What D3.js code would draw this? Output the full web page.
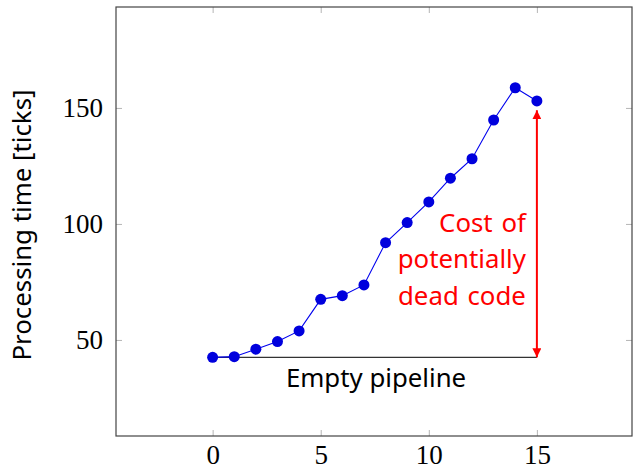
<!doctype html>
<html>
<head>
	<meta charset="UTF-8">
	<script src="https://d3js.org/d3.v7.min.js"></script>
	<style>
		body { margin: 0; background: #fff; }
		.tick line { stroke: #b5b5b5; }
		.tick text { font-family: "Liberation Serif", serif; font-size: 27px; fill: #000; }
	</style>
</head>
<body>
	<script>
		// data
		var runs = [0, 1, 2, 3, 4, 5, 6, 7, 8, 9, 10, 11, 12, 13, 14, 15];
		var ticksUsed = [42.5, 42.8, 46.0, 49.3, 53.9, 67.5, 69.1, 73.7, 91.9, 100.6, 109.5, 119.7, 128.1, 144.8, 158.7, 153.0];
		var xTicks = [0, 5, 10, 15];
		var yTicks = [50, 100, 150];
		var arrowTop = 149;

		var W = 633, H = 468;
		var plot = {left: 116, top: 7, right: 632, bottom: 436};
		var sans = "'Noto Sans', 'Open Sans', sans-serif";

		var x = d3.scaleLinear().domain([-4.47, 19.4]).range([plot.left, plot.right]);
		var y = d3.scaleLinear().domain([8.6, 193.5]).range([plot.bottom, plot.top]);

		var svg = d3.select("body").append("svg")
			.attr("width", W)
			.attr("height", H);

		// bottom axis (ticks point inward)
		var gx = svg.append("g")
			.attr("transform", "translate(0," + plot.bottom + ")")
			.call(d3.axisBottom(x).tickValues(xTicks).tickSizeInner(-6).tickSizeOuter(0).tickPadding(9));
		gx.select(".domain").remove();

		// top mirror ticks
		var gxt = svg.append("g")
			.attr("transform", "translate(0," + plot.top + ")")
			.call(d3.axisTop(x).tickValues(xTicks).tickSizeInner(-6).tickSizeOuter(0).tickFormat(""));
		gxt.select(".domain").remove();

		// left axis
		var gy = svg.append("g")
			.attr("transform", "translate(" + plot.left + ",0)")
			.call(d3.axisLeft(y).tickValues(yTicks).tickSizeInner(-6).tickSizeOuter(0).tickPadding(13));
		gy.select(".domain").remove();

		// right mirror ticks
		var gyr = svg.append("g")
			.attr("transform", "translate(" + plot.right + ",0)")
			.call(d3.axisRight(y).tickValues(yTicks).tickSizeInner(-6).tickSizeOuter(0).tickFormat(""));
		gyr.select(".domain").remove();

		// frame
		svg.append("rect")
			.attr("x", plot.left)
			.attr("y", plot.top)
			.attr("width", plot.right - plot.left)
			.attr("height", plot.bottom - plot.top)
			.attr("fill", "none")
			.attr("stroke", "#444")
			.attr("stroke-width", 1.2);

		// y axis label
		svg.append("text")
			.attr("transform", "translate(31,225) rotate(-90)")
			.attr("text-anchor", "middle")
			.style("font-family", sans)
			.style("font-size", "25.8px")
			.text("Processing time [ticks]");

		// empty pipeline baseline
		var last = runs.length - 1;
		svg.append("line")
			.attr("x1", x(runs[0]))
			.attr("x2", x(runs[last]))
			.attr("y1", y(ticksUsed[0]))
			.attr("y2", y(ticksUsed[0]))
			.attr("stroke", "#333")
			.attr("stroke-width", 1.1);

		svg.append("text")
			.attr("x", 376)
			.attr("y", 387)
			.attr("text-anchor", "middle")
			.style("font-family", sans)
			.style("font-size", "25.8px")
			.text("Empty pipeline");

		// red arrow markers
		var defs = svg.append("defs");
		defs.append("marker")
			.attr("id", "ah")
			.attr("viewBox", "0 0 10 10")
			.attr("refX", 10)
			.attr("refY", 5)
			.attr("markerWidth", 4.5)
			.attr("markerHeight", 4.5)
			.attr("orient", "auto-start-reverse")
			.append("path")
			.attr("d", "M0,0 L10,5 L0,10 Z")
			.attr("fill", "red");

		svg.append("line")
			.attr("x1", x(runs[last]))
			.attr("x2", x(runs[last]))
			.attr("y1", y(ticksUsed[0]))
			.attr("y2", y(arrowTop))
			.attr("stroke", "red")
			.attr("stroke-width", 2)
			.attr("marker-start", "url(#ah)")
			.attr("marker-end", "url(#ah)");

		var costLines = ["Cost of", "potentially", "dead code"];
		svg.append("text")
			.attr("text-anchor", "end")
			.attr("fill", "red")
			.style("font-family", sans)
			.style("font-size", "25.8px")
			.style("word-spacing", "2px")
			.selectAll("tspan")
			.data(costLines)
			.enter().append("tspan")
			.attr("x", x(runs[last]) - 11)
			.attr("y", function(d, i) { return 232 + i * 36.3; })
			.text(function(d) { return d; });

		// series line and markers
		var line = d3.line()
			.x(function(d, i) { return x(runs[i]); })
			.y(function(d) { return y(d); });

		svg.append("path")
			.attr("d", line(ticksUsed))
			.attr("fill", "none")
			.attr("stroke", "#0000ee")
			.attr("stroke-width", 1.1);

		svg.selectAll("circle.pt")
			.data(ticksUsed)
			.enter().append("circle")
			.attr("class", "pt")
			.attr("cx", function(d, i) { return x(runs[i]); })
			.attr("cy", function(d) { return y(d); })
			.attr("r", 5.5)
			.attr("fill", "#0000dd");
	</script>
</body>
</html>
